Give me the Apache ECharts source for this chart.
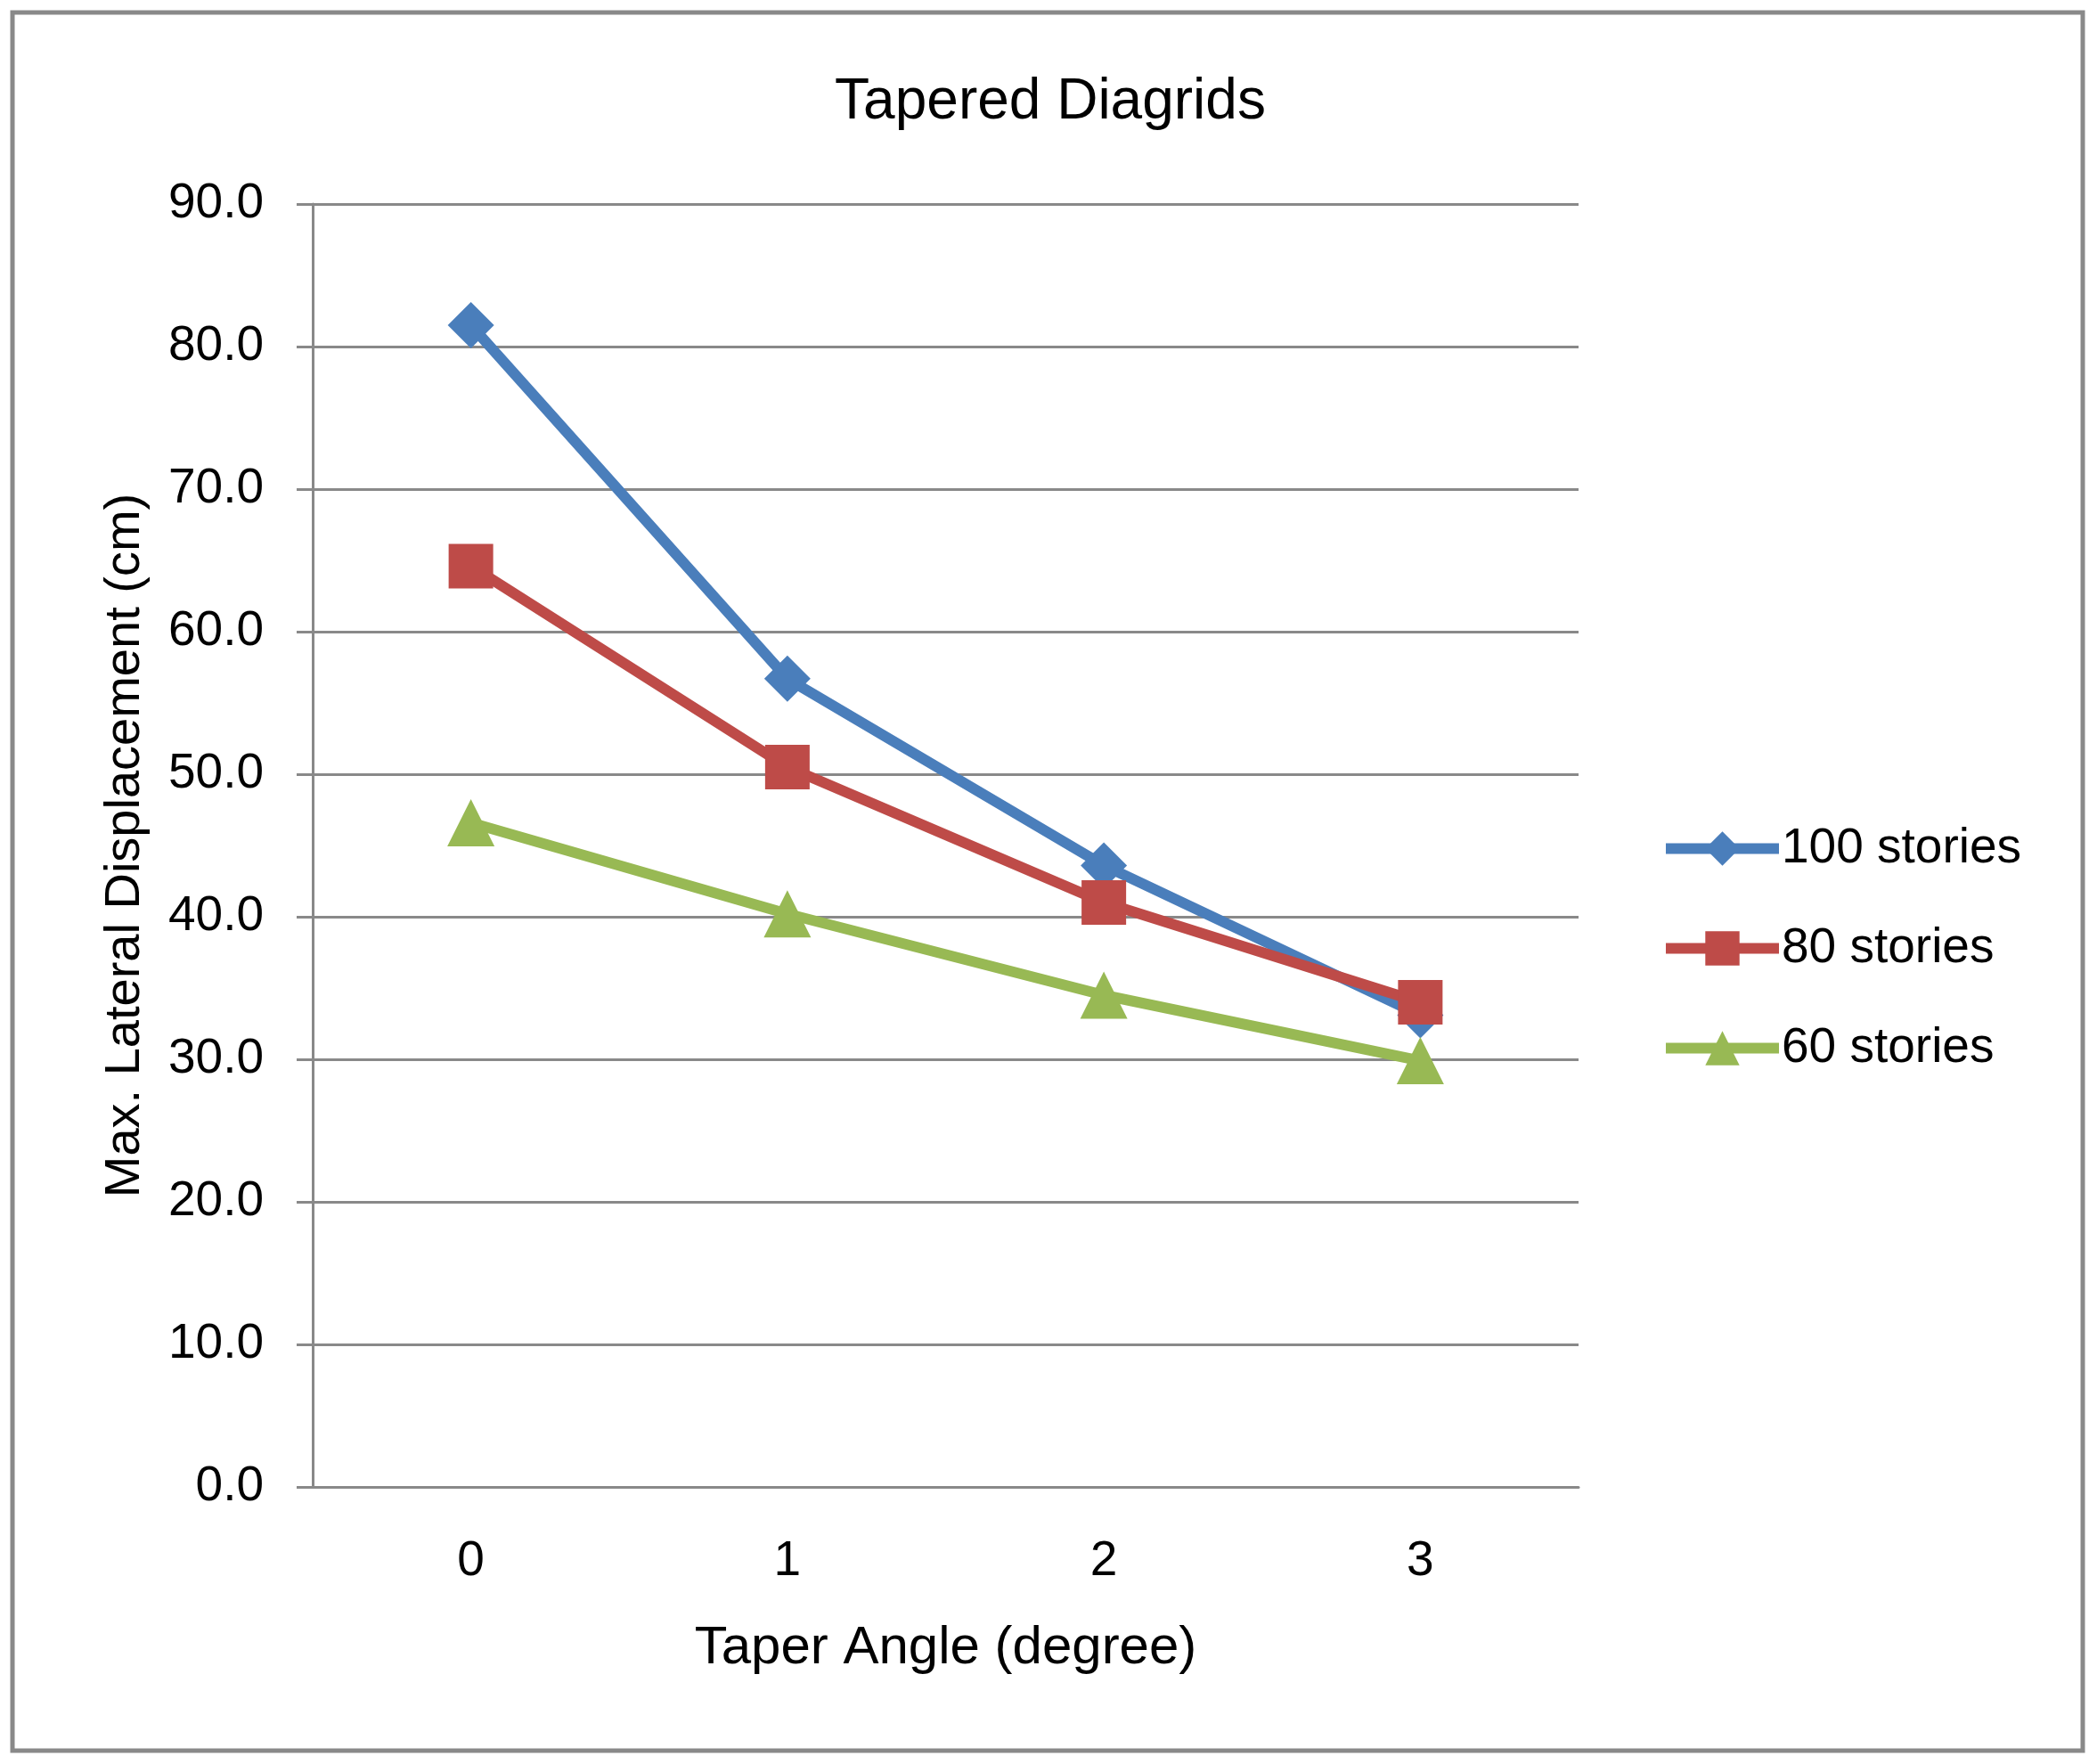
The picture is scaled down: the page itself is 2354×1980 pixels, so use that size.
<!DOCTYPE html>
<html>
<head>
<meta charset="utf-8">
<script src="https://cdn.jsdelivr.net/npm/echarts@6/dist/echarts.min.js"></script>
<style>
html,body{margin:0;padding:0;background:#fff;}
#chart{width:2354px;height:1980px;}
</style>
</head>
<body>
<div id="chart"></div>
<script>
const categories = ['0', '1', '2', '3'];
const seriesNames = ['100 stories', '80 stories', '60 stories'];
const stories100 = [81.5, 56.7, 43.6, 33.1];
const stories80 = [64.6, 50.5, 41.0, 34.0];
const stories60 = [46.6, 40.2, 34.5, 29.9];
const titleText = 'Tapered Diagrids';
const xAxisName = 'Taper Angle (degree)';
const yAxisName = 'Max. Lateral Displacement (cm)';

const FONT = '"Liberation Sans", Arial, sans-serif';
const GRID = '#898989';
const colors = ['#4A7EBB', '#BE4B48', '#98B954'];
const symbols = ['diamond', 'rect', 'triangle'];
const symbolSizes = [[52, 52], [50, 50], [53, 53]];
const dataSets = [stories100, stories80, stories60];

const chart = echarts.init(document.getElementById('chart'), null, {renderer: 'canvas'});
chart.setOption({
  backgroundColor: '#ffffff',
  animation: false,
  title: {
    text: titleText,
    left: 1174,
    textAlign: 'center',
    top: 78,
    textStyle: {fontFamily: FONT, fontSize: 64, fontWeight: 'normal', color: '#000'}
  },
  graphic: [{
    type: 'rect',
    shape: {x: 14, y: 14, width: 2324, height: 1951},
    style: {fill: 'none', stroke: '#898989', lineWidth: 5},
    silent: true
  }],
  legend: {
    orient: 'vertical',
    left: 1859,
    top: 920,
    itemWidth: 127,
    itemHeight: 48,
    itemGap: 57,
    lineStyle: {width: 12},
    textStyle: {fontFamily: FONT, fontSize: 55, color: '#000', padding: [0, 0, 0, -2]},
    data: seriesNames
  },
  grid: {left: 351, top: 229, right: 582, bottom: 311, containLabel: false},
  xAxis: {
    type: 'category',
    data: categories,
    boundaryGap: true,
    name: xAxisName,
    nameLocation: 'middle',
    nameGap: 151,
    nameTextStyle: {fontFamily: FONT, fontSize: 60, color: '#000'},
    axisLine: {show: true, lineStyle: {color: GRID, width: 3}},
    axisTick: {show: false},
    axisLabel: {fontFamily: FONT, fontSize: 55, color: '#000', margin: 56}
  },
  yAxis: {
    type: 'value',
    min: 0,
    max: 90,
    interval: 10,
    name: yAxisName,
    nameLocation: 'middle',
    nameGap: 182,
    nameTextStyle: {fontFamily: FONT, fontSize: 56, color: '#000'},
    axisLine: {show: true, lineStyle: {color: GRID, width: 3}},
    axisTick: {show: true, length: 18, lineStyle: {color: GRID, width: 3}},
    splitLine: {show: true, lineStyle: {color: GRID, width: 3}},
    axisLabel: {fontFamily: FONT, fontSize: 55, color: '#000', margin: 55,
      formatter: v => v.toFixed(1)}
  },
  series: seriesNames.map((name, i) => ({
    name: name,
    type: 'line',
    data: dataSets[i],
    symbol: symbols[i],
    symbolSize: symbolSizes[i],
    showAllSymbol: true,
    lineStyle: {color: colors[i], width: 12},
    itemStyle: {color: colors[i], borderWidth: 0},
    z: 2 + i
  }))
});
</script>
</body>
</html>
